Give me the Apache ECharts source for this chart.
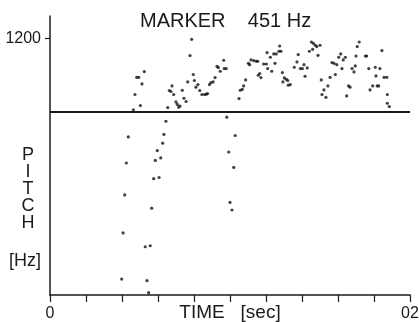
<!DOCTYPE html>
<html>
<head>
<meta charset="utf-8">
<style>
  html, body { margin: 0; padding: 0; background: #fff; }
  #chart { width: 419px; height: 322px; }
</style>
<script src="https://cdn.jsdelivr.net/npm/echarts@6/dist/echarts.min.js"></script>
</head>
<body>
<div id="chart"></div>
<script>
// Pitch track: time of each frame (sec) and its estimated pitch (Hz)
const times = [
  0.0398,0.0406,0.0415,0.0424,0.0435,0.0463,0.0472,0.0482,0.0493,0.0502,
  0.0511,0.0524,0.0529,0.0539,0.0548,0.0557,0.0565,0.0576,0.0585,0.0596,
  0.0606,0.0615,0.0626,0.0633,0.0644,0.0654,0.0663,0.0672,0.0678,0.0687,
  0.0700,0.0707,0.0715,0.0722,0.0735,0.0744,0.0756,0.0765,0.0778,0.0787,
  0.0796,0.0802,0.0811,0.0822,0.0832,0.0844,0.0859,0.0868,0.0875,0.0886,
  0.0894,0.0906,0.0917,0.0928,0.0935,0.0946,0.0965,0.0968,0.0979,0.0982,
  0.0993,0.1000,0.1011,0.1021,0.1029,0.1050,0.1057,0.1068,0.1076,0.1087,
  0.1102,0.1109,0.1117,0.1132,0.1146,0.1154,0.1157,0.1165,0.1172,0.1187,
  0.1202,0.1206,0.1209,0.1224,0.1232,0.1243,0.1250,0.1257,0.1272,0.1276,
  0.1283,0.1291,0.1294,0.1302,0.1313,0.1321,0.1324,0.1335,0.1357,0.1372,
  0.1379,0.1391,0.1402,0.1411,0.1417,0.1429,0.1441,0.1452,0.1459,0.1463,
  0.1474,0.1482,0.1489,0.1500,0.1507,0.1511,0.1522,0.1533,0.1544,0.1556,
  0.1567,0.1578,0.1585,0.1593,0.1604,0.1615,0.1622,0.1629,0.1641,0.1648,
  0.1659,0.1667,0.1678,0.1689,0.1696,0.1700,0.1707,0.1718,0.1752,0.1759,
  0.1771,0.1778,0.1793,0.1807,0.1811,0.1818,0.1826,0.1833,0.1844,0.1856,
  0.1871,0.1874,0.1874,0.1885
];
const pitches = [
  48,89,148,227,322,463,568,715,715,490,
  654,772,74,47,40,75,124,184,235,268,
  187,243,296,333,397,477,599,591,637,568,
  514,497,479,487,601,540,517,672,956,1189,
  742,685,626,649,599,568,568,570,575,649,
  666,672,712,828,814,775,898,804,804,419,
  263,134,121,214,328,538,601,609,637,690,
  862,847,902,894,886,886,735,752,712,854,
  854,995,804,935,775,977,862,977,1013,1087,
  1013,762,672,709,696,685,643,649,818,878,
  969,804,804,847,725,810,1013,1147,1040,1127,
  1098,1079,960,1098,690,568,604,547,637,715,
  871,862,742,847,935,977,804,902,935,557,
  637,626,804,768,832,951,1079,1147,951,951,
  804,604,637,818,728,637,637,804,1022,715,
  715,568,505,483
];
const markerHz = 451;
const yTickValues = [1200];
const xLabelValues = [0, 0.2];
const xLabelText = ['0', '02'];

const ink = '#1a1a1a';
const font = 'Liberation Sans, Arial, sans-serif';

const chart = echarts.init(document.getElementById('chart'), null, { renderer: 'canvas' });
chart.setOption({
  animation: false,
  backgroundColor: '#fff',
  title: {
    text: 'MARKER    451 Hz',
    left: 135,
    top: 6,
    textStyle: { fontFamily: font, fontSize: 20, fontWeight: 'normal', color: ink }
  },
  grid: { left: 50, right: 9, top: 16, bottom: 27, containLabel: false, outerBoundsMode: 'none' },
  xAxis: {
    type: 'value',
    min: 0,
    max: 0.2,
    interval: 0.02,
    name: 'TIME   [sec]',
    nameLocation: 'middle',
    nameGap: 8,
    nameMoveOverlap: false,
    nameTextStyle: { fontFamily: font, fontSize: 19, color: ink, verticalAlign: 'top' },
    axisLine: { show: true, lineStyle: { color: ink, width: 1.6 } },
    axisTick: { show: true, inside: false, length: 7, lineStyle: { color: ink, width: 1.2 } },
    axisLabel: {
      customValues: xLabelValues,
      formatter: v => xLabelText[xLabelValues.indexOf(v)] ?? '',
      fontFamily: font, fontSize: 16, color: ink, margin: 11
    },
    splitLine: { show: false }
  },
  yAxis: {
    type: 'log',
    min: 38.8,
    max: 1624,
    axisLine: { show: true, lineStyle: { color: ink, width: 1.5 } },
    axisTick: { show: true, inside: false, length: 5, customValues: yTickValues, lineStyle: { color: ink, width: 1.2 } },
    axisLabel: {
      customValues: yTickValues,
      formatter: v => String(Math.round(v)),
      fontFamily: 'Liberation Sans Narrow, ' + font, fontSize: 16, color: ink, margin: 9
    },
    minorTick: { show: false },
    splitLine: { show: false }
  },
  graphic: [
    {
      type: 'text', x: 28, y: 147,
      style: { text: 'P\nI\nT\nC\nH', font: '18px ' + font, fill: ink, align: 'center', verticalAlign: 'top', lineHeight: 17 }
    },
    {
      type: 'text', x: 25, y: 261,
      style: { text: '[Hz]', font: '18px ' + font, fill: ink, align: 'center', verticalAlign: 'middle' }
    }
  ],
  series: [{
    type: 'scatter',
    data: times.map((t, i) => [t, pitches[i]]),
    symbol: 'circle',
    symbolSize: 3.2,
    itemStyle: { color: '#111' },
    silent: true,
    markLine: {
      silent: true,
      symbol: ['none', 'none'],
      label: { show: false },
      lineStyle: { color: ink, width: 1.8, type: 'solid' },
      data: [{ yAxis: markerHz }]
    }
  }]
});
</script>
</body>
</html>
